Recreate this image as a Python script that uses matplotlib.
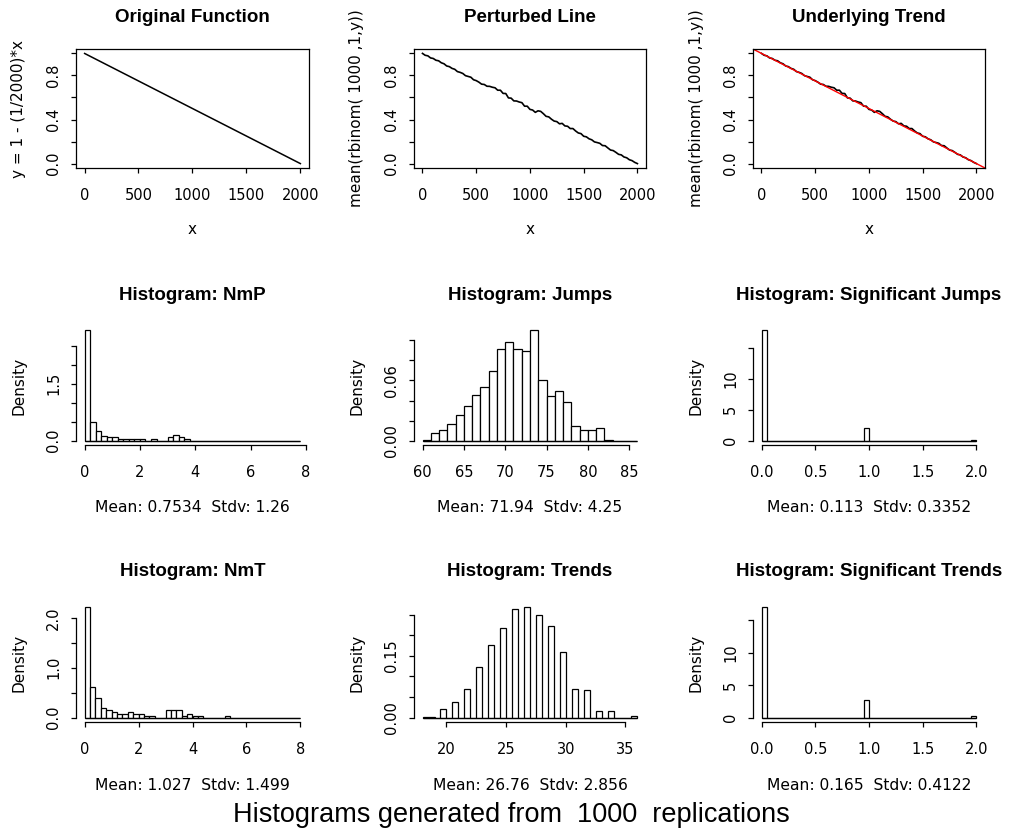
import numpy as np
import matplotlib.pyplot as plt

W, H = 1023, 833

# ---- data ----
x_orig = [1, 2000]
y_orig = [0.9995, 0.0]

x_pert = np.arange(0, 2001, 25)
y_pert = [1.000, 0.983, 0.978, 0.959, 0.954, 0.938, 0.933, 0.915, 0.906, 0.886,
          0.880, 0.864, 0.856, 0.835, 0.828, 0.818, 0.798, 0.791, 0.784, 0.761,
          0.753, 0.739, 0.721, 0.718, 0.702, 0.701, 0.693, 0.688, 0.666, 0.666,
          0.637, 0.636, 0.596, 0.594, 0.569, 0.568, 0.559, 0.553, 0.521, 0.521,
          0.492, 0.486, 0.465, 0.479, 0.474, 0.453, 0.429, 0.424, 0.403, 0.386,
          0.381, 0.361, 0.365, 0.342, 0.339, 0.318, 0.318, 0.296, 0.278, 0.272,
          0.248, 0.243, 0.225, 0.216, 0.197, 0.191, 0.184, 0.164, 0.162, 0.142,
          0.123, 0.118, 0.102, 0.084, 0.079, 0.060, 0.053, 0.035, 0.027, 0.011,
          0.000]

trend_intercept = 1.0
trend_slope = -1 / 2000

# histograms: (first break, bin width, densities)
nmp_start, nmp_width = 0.0, 0.2
nmp_density = [2.91, 0.485, 0.25, 0.13, 0.10, 0.10, 0.045, 0.04, 0.04, 0.04,
               0.04, 0.0, 0.05, 0.0, 0.0, 0.10, 0.14, 0.10, 0.05] + [0.0] * 20

jumps_start, jumps_width = 60, 1
jumps_density = [0.001, 0.008, 0.011, 0.017, 0.026, 0.035, 0.046, 0.054, 0.069, 0.091,
                 0.098, 0.091, 0.089, 0.110, 0.060, 0.045, 0.050, 0.039, 0.015, 0.011,
                 0.011, 0.013, 0.001, 0.0, 0.0, 0.0]

sigj_start, sigj_width = 0.0, 0.05
sigj_density = [17.86] + [0.0] * 18 + [2.02] + [0.0] * 19 + [0.12]

nmt_start, nmt_width = 0.0, 0.2
nmt_density = [2.21, 0.61, 0.39, 0.20, 0.15, 0.12, 0.08, 0.08, 0.12, 0.08,
               0.08, 0.04, 0.04, 0.0, 0.0, 0.15, 0.15, 0.15, 0.04, 0.08,
               0.04, 0.04, 0.0, 0.0, 0.0, 0.0, 0.04] + [0.0] * 13

trends_start, trends_width = 18, 0.5
trends_density = [0.002, 0.002, 0.0, 0.020, 0.0, 0.039, 0.0, 0.070, 0.0, 0.124,
                  0.0, 0.177, 0.0, 0.219, 0.0, 0.264, 0.0, 0.268, 0.0, 0.249,
                  0.0, 0.223, 0.0, 0.159, 0.0, 0.070, 0.0, 0.066, 0.0, 0.016,
                  0.0, 0.016, 0.0, 0.0, 0.0, 0.004]

sigt_start, sigt_width = 0.0, 0.05
sigt_density = [17.02] + [0.0] * 18 + [2.66] + [0.0] * 19 + [0.32]

subtitles = ["Mean: 0.7534  Stdv: 1.26", "Mean: 71.94  Stdv: 4.25", "Mean: 0.113  Stdv: 0.3352",
             "Mean: 1.027  Stdv: 1.499", "Mean: 26.76  Stdv: 2.856", "Mean: 0.165  Stdv: 0.4122"]

# ---- layout (pixels) ----
cols = [(76, 309), (414, 646), (753, 985)]
rows = [(49, 168), (326, 445), (603, 722)]

plt.rcParams['font.family'] = 'DejaVu Sans'
fig = plt.figure(figsize=(W / 100, H / 100), dpi=100)

LW = 0.9


def make_ax(c, r):
    l, rr = cols[c]
    t, b = rows[r]
    return fig.add_axes([l / W, 1 - b / H, (rr - l) / W, (b - t) / H])


def fig_text(px, py, s, **kw):
    fig.text(px / W, 1 - py / H, s, **kw)


def decorate(ax, c, r, title, xticks, xlabels, yticks, ylabels, ylab, box, sub=None, xlab=None):
    ax.set_xticks(xticks)
    ax.set_xticklabels(xlabels)
    ax.set_yticks(yticks)
    ax.set_yticklabels(ylabels)
    ax.tick_params(direction='out', length=3.6, width=LW, labelsize=10.5, color='black')
    ax.tick_params(axis='x', pad=11)
    ax.tick_params(axis='y', pad=7, labelrotation=90)
    for lab in ax.get_yticklabels():
        lab.set_va('center')
    for sp in ax.spines.values():
        sp.set_linewidth(LW)
    if not box:
        ax.spines['top'].set_visible(False)
        ax.spines['right'].set_visible(False)
        ax.spines['left'].set_bounds(yticks[0], yticks[-1])
        ax.spines['bottom'].set_bounds(xticks[0], xticks[-1])
    l, rr = cols[c]
    t, b = rows[r]
    cx = (l + rr) / 2
    fig_text(cx, t - 31, title, ha='center', va='center', fontsize=13.5,
             fontweight='bold', family='Liberation Sans')
    fig_text(l - 57, (t + b) / 2, ylab, ha='center', va='center', rotation=90, fontsize=11)
    if xlab is not None:
        fig_text(cx, b + 62, xlab, ha='center', va='center', fontsize=11)
    if sub is not None:
        fig_text(cx, b + 63, sub, ha='center', va='center', fontsize=11.2)


def r_lim(lo, hi):
    pad = 0.04 * (hi - lo)
    return lo - pad, hi + pad


def draw_hist(ax, start, width, dens):
    edges = start + width * np.arange(len(dens))
    end = start + width * len(dens)
    ax.bar(edges, dens, width=width, align='edge', color='white',
           edgecolor='black', linewidth=LW)
    # zero-height bins show as a continuous line along the base, as in R
    ax.plot([start, end], [0, 0], color='black', lw=LW, solid_capstyle='butt')
    ax.set_xlim(*r_lim(start, end))
    ax.set_ylim(*r_lim(0, max(dens)))


top_xt = [0, 500, 1000, 1500, 2000]
top_xl = ['0', '500', '1000', '1500', '2000']
top_yt = [0, 0.2, 0.4, 0.6, 0.8, 1.0]
top_yl = ['0.0', '', '0.4', '', '0.8', '']
ylab_pert = "mean(rbinom( 1000 ,1,y))"

# row 1
ax = make_ax(0, 0)
ax.plot(x_orig, y_orig, color='black', lw=1.1)
ax.set_xlim(*r_lim(1, 2000))
ax.set_ylim(*r_lim(0, 1))
decorate(ax, 0, 0, "Original Function", top_xt, top_xl, top_yt, top_yl,
         "y = 1 - (1/2000)*x", True, xlab="x")

ax = make_ax(1, 0)
ax.plot(x_pert, y_pert, color='black', lw=1.2)
ax.set_xlim(*r_lim(1, 2000))
ax.set_ylim(*r_lim(0, 1))
decorate(ax, 1, 0, "Perturbed Line", top_xt, top_xl, top_yt, top_yl, ylab_pert, True, xlab="x")

ax = make_ax(2, 0)
ax.plot(x_pert, y_pert, color='black', lw=1.2)
ax.axline((0, trend_intercept), slope=trend_slope, color='red', lw=1.0)
ax.set_xlim(*r_lim(1, 2000))
ax.set_ylim(*r_lim(0, 1))
decorate(ax, 2, 0, "Underlying Trend", top_xt, top_xl, top_yt, top_yl, ylab_pert, True, xlab="x")

# row 2
ax = make_ax(0, 1)
draw_hist(ax, nmp_start, nmp_width, nmp_density)
decorate(ax, 0, 1, "Histogram: NmP", [0, 2, 4, 6, 8], ['0', '2', '4', '6', '8'],
         [0, 0.5, 1.0, 1.5, 2.0, 2.5], ['0.0', '', '', '1.5', '', ''], "Density", False,
         sub=subtitles[0])

ax = make_ax(1, 1)
draw_hist(ax, jumps_start, jumps_width, jumps_density)
decorate(ax, 1, 1, "Histogram: Jumps", [60, 65, 70, 75, 80, 85],
         ['60', '65', '70', '75', '80', '85'],
         [0, 0.02, 0.04, 0.06, 0.08, 0.10], ['0.00', '', '', '0.06', '', ''], "Density", False,
         sub=subtitles[1])

ax = make_ax(2, 1)
draw_hist(ax, sigj_start, sigj_width, sigj_density)
decorate(ax, 2, 1, "Histogram: Significant Jumps", [0, 0.5, 1.0, 1.5, 2.0],
         ['0.0', '0.5', '1.0', '1.5', '2.0'],
         [0, 5, 10, 15], ['0', '5', '10', ''], "Density", False, sub=subtitles[2])

# row 3
ax = make_ax(0, 2)
draw_hist(ax, nmt_start, nmt_width, nmt_density)
decorate(ax, 0, 2, "Histogram: NmT", [0, 2, 4, 6, 8], ['0', '2', '4', '6', '8'],
         [0, 0.5, 1.0, 1.5, 2.0], ['0.0', '', '1.0', '', '2.0'], "Density", False,
         sub=subtitles[3])

ax = make_ax(1, 2)
draw_hist(ax, trends_start, trends_width, trends_density)
decorate(ax, 1, 2, "Histogram: Trends", [20, 25, 30, 35], ['20', '25', '30', '35'],
         [0, 0.05, 0.10, 0.15, 0.20, 0.25], ['0.00', '', '', '0.15', '', ''], "Density", False,
         sub=subtitles[4])

ax = make_ax(2, 2)
draw_hist(ax, sigt_start, sigt_width, sigt_density)
decorate(ax, 2, 2, "Histogram: Significant Trends", [0, 0.5, 1.0, 1.5, 2.0],
         ['0.0', '0.5', '1.0', '1.5', '2.0'],
         [0, 5, 10, 15], ['0', '5', '10', ''], "Density", False, sub=subtitles[5])

fig_text(W / 2, 815, "Histograms generated from  1000  replications", ha='center', va='center',
         fontsize=19.5, family='Liberation Sans')

fig.savefig('out.png', dpi=100)
